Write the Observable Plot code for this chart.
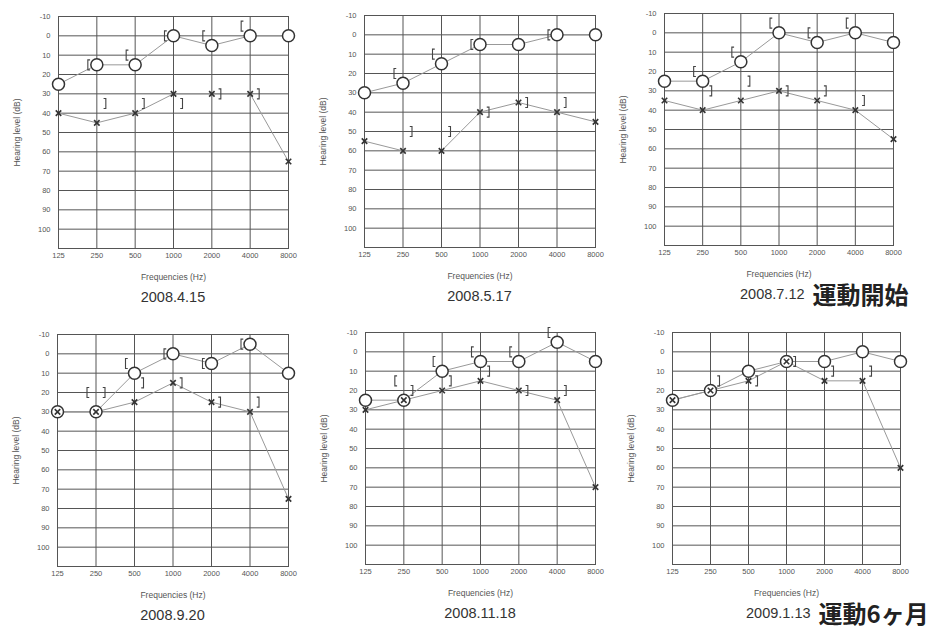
<!DOCTYPE html>
<html><head><meta charset="utf-8">
<script src="https://cdn.jsdelivr.net/npm/d3@7"></script>
<script src="https://cdn.jsdelivr.net/npm/@observablehq/plot@0.6"></script>
<style>
body{margin:0;background:#fff;}
#wrap{position:relative;width:928px;height:630px;overflow:hidden;background:#fff;font-family:"Liberation Sans",Arial,sans-serif;}
.panel{position:absolute;}
.panel svg{overflow:visible;}
.panel svg [aria-label="y-axis label"] text{font-size:8.5px;}
.cap{position:absolute;font-size:14.5px;color:#333;white-space:nowrap;line-height:1;}
.note{font-family:"Noto Sans CJK JP",sans-serif;font-weight:700;font-size:24px;color:#222;margin-left:8px;}
</style></head><body><div id="wrap"></div>
<script>
// ---- data ----
const freqs = [125, 250, 500, 1000, 2000, 4000, 8000];
const freqLabels = ["125", "250", "500", "1000", "2000", "4000", "8000"];
const boneFreqs = [250, 500, 1000, 2000, 4000];
const yTicks = [-10, 0, 10, 20, 30, 40, 50, 60, 70, 80, 90, 100];
const dates = ["2008.4.15", "2008.5.17", "2008.7.12", "2008.9.20", "2008.11.18", "2009.1.13"];
const notes = ["", "", "運動開始", "", "", "運動6ヶ月"];
// air conduction, right ear (O)
const rightAir = [
  [25, 15, 15, 0, 5, 0, 0],
  [30, 25, 15, 5, 5, 0, 0],
  [25, 25, 15, 0, 5, 0, 5],
  [30, 30, 10, 0, 5, -5, 10],
  [25, 25, 10, 5, 5, -5, 5],
  [25, 20, 10, 5, 5, 0, 5]
];
// air conduction, left ear (X)
const leftAir = [
  [40, 45, 40, 30, 30, 30, 65],
  [55, 60, 60, 40, 35, 40, 45],
  [35, 40, 35, 30, 35, 40, 55],
  [30, 30, 25, 15, 25, 30, 75],
  [30, 25, 20, 15, 20, 25, 70],
  [25, 20, 15, 5, 15, 15, 60]
];
// bone conduction, right ear ([)
const rightBone = [
  [15, 10, 0, 0, -5],
  [20, 10, 5, null, 0],
  [20, 10, -5, 0, -5],
  [20, 5, 0, 5, -5],
  [15, 5, 0, 0, -10],
  [null, null, null, null, null]
];
// bone conduction, left ear (])
const leftBone = [
  [35, 35, 35, 30, 30],
  [50, 50, 40, 35, 35],
  [30, 25, 30, 30, 35],
  [20, 15, 15, 25, 25],
  [20, 15, 10, 20, 20],
  [15, 15, 5, 10, 10]
];

// ---- bracket symbols ----
function bracket(dir) {
  return {
    draw(ctx, size) {
      const r = Math.sqrt(size / Math.PI);
      const h = r, w = r * 0.45 * dir;
      ctx.moveTo(w, -h); ctx.lineTo(0, -h); ctx.lineTo(0, h); ctx.lineTo(w, h);
    }
  };
}
const openBracket = bracket(1);   // "["
const closeBracket = bracket(-1); // "]"

// ---- layout (frame boxes in page pixels) ----
const frames = [
  {left: 58, top: 16, w: 230, h: 232, capLeft: null},
  {left: 364, top: 15, w: 231, h: 232, capLeft: null},
  {left: 664, top: 13, w: 229, h: 232, capLeft: 740},
  {left: 57, top: 334, w: 231, h: 232, capLeft: null},
  {left: 365, top: 332, w: 230, h: 232, capLeft: null},
  {left: 672, top: 332, w: 228, h: 232, capLeft: 746}
];
const mL = 52, mR = 14, mT = 8, mB = 42;
const wrap = document.getElementById("wrap");
const tickData = freqs.map((f, j) => ({f, label: freqLabels[j]}));

frames.forEach((f, i) => {
  const pts = freqs.map((fr, j) => ({f: fr, r: rightAir[i][j], l: leftAir[i][j]}));
  const rb = boneFreqs.map((fr, j) => ({f: fr, v: rightBone[i][j]})).filter(d => d.v != null);
  const lb = boneFreqs.map((fr, j) => ({f: fr, v: leftBone[i][j]})).filter(d => d.v != null);
  const svg = Plot.plot({
    width: f.w + mL + mR,
    height: f.h + mT + mB,
    marginLeft: mL, marginRight: mR, marginTop: mT, marginBottom: mB,
    style: {fontFamily: "'Liberation Sans', Arial, sans-serif", fontSize: "7.5px", color: "#555", background: "transparent"},
    x: {type: "log", domain: [125, 8000], axis: null},
    y: {domain: [-10, 110], reverse: true, ticks: yTicks, tickFormat: d => String(d), tickSize: 0, tickPadding: 8,
        label: "Hearing level (dB)", labelAnchor: "center", labelOffset: 45, labelArrow: "none"},
    marks: [
      Plot.gridX(freqs, {stroke: "#555", strokeOpacity: 1}),
      Plot.gridY(yTicks.concat([110]), {stroke: "#555", strokeOpacity: 1}),
      Plot.frame({stroke: "#555"}),
      Plot.text(tickData, {x: "f", text: "label", frameAnchor: "bottom", dy: 9, fill: "#555", fontSize: 7.5}),
      Plot.text(["Frequencies (Hz)"], {frameAnchor: "bottom", dy: 31, fill: "#555", fontSize: 8.5}),
      Plot.line(pts, {x: "f", y: "r", stroke: "#999", strokeWidth: 1}),
      Plot.line(pts, {x: "f", y: "l", stroke: "#999", strokeWidth: 1}),
      Plot.dot(pts, {x: "f", y: "r", r: 6, stroke: "#333", fill: "white", strokeWidth: 1.5}),
      Plot.dot(pts, {x: "f", y: "l", symbol: "times", r: 2.6, stroke: "#333", strokeWidth: 1.6}),
      Plot.dot(rb, {x: "f", y: "v", symbol: openBracket, r: 5, dx: -9, stroke: "#444", fill: "none", strokeWidth: 1.1}),
      Plot.dot(lb, {x: "f", y: "v", symbol: closeBracket, r: 5, dx: 9, stroke: "#444", fill: "none", strokeWidth: 1.1})
    ]
  });
  const div = document.createElement("div");
  div.className = "panel";
  div.style.left = (f.left - mL) + "px";
  div.style.top = (f.top - mT) + "px";
  div.appendChild(svg);
  wrap.appendChild(div);

  const cap = document.createElement("div");
  cap.className = "cap";
  cap.textContent = dates[i];
  if (notes[i]) {
    const s = document.createElement("span");
    s.className = "note";
    s.textContent = notes[i];
    cap.appendChild(s);
  }
  const cy = f.top + f.h + 49;
  if (f.capLeft != null) {
    cap.style.left = f.capLeft + "px";
    cap.style.top = cy + "px";
    cap.style.transform = "translate(0,-50%)";
    cap.style.display = "flex";
    cap.style.alignItems = "center";
  } else {
    cap.style.left = (f.left + f.w / 2) + "px";
    cap.style.top = cy + "px";
    cap.style.transform = "translate(-50%,-50%)";
  }
  wrap.appendChild(cap);
});
</script>
</body></html>
